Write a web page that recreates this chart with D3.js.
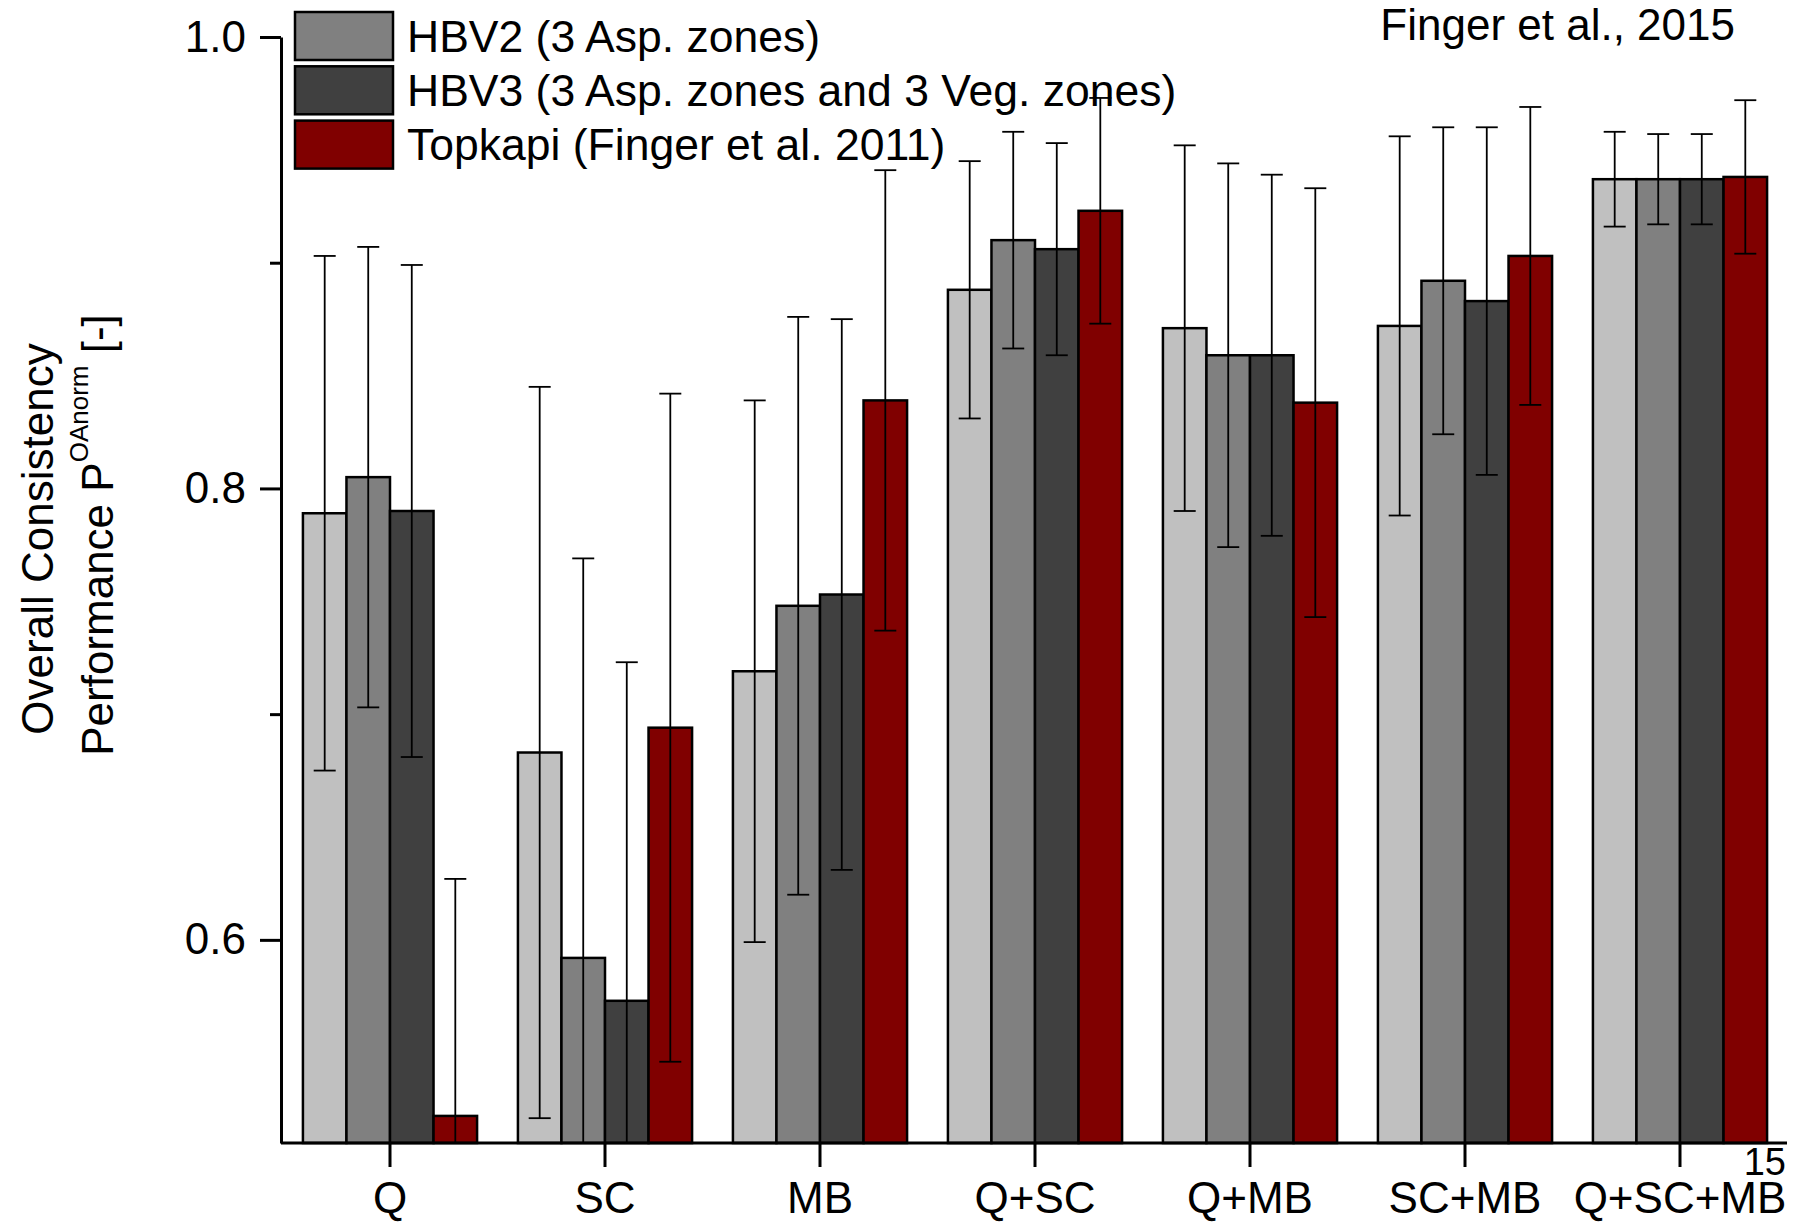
<!DOCTYPE html>
<html>
<head>
<meta charset="utf-8">
<script src="https://cdn.jsdelivr.net/npm/d3@7"></script>
<style>
  body { margin: 0; background: #fff; }
  text { font-family: "Liberation Sans", Arial, sans-serif; fill: #000; }
</style>
</head>
<body>
<div id="chart"></div>
<script>
// data
const categories = ["Q", "SC", "MB", "Q+SC", "Q+MB", "SC+MB", "Q+SC+MB"];
const seriesNames = ["HBV1", "HBV2", "HBV3", "Topkapi"];
const seriesColors = ["#c0c0c0", "#808080", "#404040", "#800000"];

// mean values per series (one entry per category)
const hbv1 = [0.789, 0.683, 0.719, 0.888, 0.871, 0.872, 0.937];
const hbv2 = [0.805, 0.592, 0.748, 0.910, 0.859, 0.892, 0.937];
const hbv3 = [0.790, 0.573, 0.753, 0.906, 0.859, 0.883, 0.937];
const topkapi = [0.522, 0.694, 0.839, 0.923, 0.838, 0.903, 0.938];

// error bar half widths
const hbv1Err = [0.114, 0.162, 0.120, 0.057, 0.081, 0.084, 0.021];
const hbv2Err = [0.102, 0.177, 0.128, 0.048, 0.085, 0.068, 0.020];
const hbv3Err = [0.109, 0.150, 0.122, 0.047, 0.080, 0.077, 0.020];
const topkapiErr = [0.105, 0.148, 0.102, 0.050, 0.095, 0.066, 0.034];

const legendLabels = ["HBV2 (3 Asp. zones)", "HBV3 (3 Asp. zones and 3 Veg. zones)", "Topkapi (Finger et al. 2011)"];
const legendColors = ["#808080", "#404040", "#800000"];

const yMajorTicks = [0.6, 0.8, 1.0];
const yMinorTicks = [0.7, 0.9];

const width = 1794;
const height = 1222;

const svg = d3.select("#chart")
    .append("svg")
    .attr("width", width)
    .attr("height", height)
    .style("display", "block");

svg.append("rect").attr("width", width).attr("height", height).attr("fill", "#fff");

const plotLeft = 281, plotRight = 1787;
const y = d3.scaleLinear().domain([0.51, 1.0]).range([1143, 37]);

const x = d3.scaleBand()
    .domain(categories)
    .range([282.5, 1787.5])
    .paddingInner(0.19)
    .paddingOuter(0.095);

const xSub = d3.scaleBand()
    .domain(seriesNames)
    .range([0, x.bandwidth()]);

const values = [hbv1, hbv2, hbv3, topkapi];
const errs = [hbv1Err, hbv2Err, hbv3Err, topkapiErr];

let rows = [];
seriesNames.forEach((s, si) => {
    categories.forEach((c, ci) => {
        rows.push({cat: c, series: s, color: seriesColors[si], v: values[si][ci], e: errs[si][ci]});
    });
});

// bars
svg.append("g")
    .selectAll("rect")
    .data(rows)
    .join("rect")
        .attr("x", d => x(d.cat) + xSub(d.series))
        .attr("y", d => y(d.v))
        .attr("width", xSub.bandwidth())
        .attr("height", d => y.range()[0] - y(d.v))
        .attr("fill", d => d.color)
        .attr("stroke", "#000")
        .attr("stroke-width", 2.5);

// error bars (clipped at the axis minimum)
const yMin = y.domain()[0];
const capW = 11;
const eb = svg.append("g").attr("stroke", "#000").attr("stroke-width", 1.8);
rows.forEach(d => {
    const cx = x(d.cat) + xSub(d.series) + xSub.bandwidth() / 2;
    const hi = d.v + d.e;
    const lo = Math.max(d.v - d.e, yMin);
    eb.append("line").attr("x1", cx).attr("x2", cx).attr("y1", y(hi)).attr("y2", y(lo));
    eb.append("line").attr("x1", cx - capW).attr("x2", cx + capW).attr("y1", y(hi)).attr("y2", y(hi));
    if (d.v - d.e > yMin) {
        eb.append("line").attr("x1", cx - capW).attr("x2", cx + capW).attr("y1", y(lo)).attr("y2", y(lo));
    }
});

// y axis
const yAxis = svg.append("g")
    .attr("transform", `translate(${plotLeft},0)`)
    .call(d3.axisLeft(y).tickValues(yMajorTicks).tickSize(21).tickPadding(14).tickFormat(d3.format(".1f")).tickSizeOuter(0));
yAxis.select(".domain").attr("stroke-width", 3);
yAxis.selectAll(".tick line").attr("stroke-width", 3);
yAxis.selectAll(".tick text").attr("font-size", 44).attr("font-family", "Liberation Sans, Arial, sans-serif");

const yMinor = svg.append("g")
    .attr("transform", `translate(${plotLeft},0)`)
    .call(d3.axisLeft(y).tickValues(yMinorTicks).tickSize(11).tickFormat(""));
yMinor.select(".domain").remove();
yMinor.selectAll(".tick line").attr("stroke-width", 3);

// x axis
const xAxis = svg.append("g")
    .attr("transform", `translate(0,${y.range()[0]})`)
    .call(d3.axisBottom(x).tickSize(24).tickPadding(15).tickSizeOuter(0));
xAxis.select(".domain").attr("d", `M${plotLeft},0H${plotRight}`).attr("stroke-width", 3);
xAxis.selectAll(".tick line").attr("stroke-width", 3);
xAxis.selectAll(".tick text").attr("font-size", 44).attr("font-family", "Liberation Sans, Arial, sans-serif");

// y axis title
svg.append("text")
    .attr("transform", "translate(53,539) rotate(-90)")
    .attr("text-anchor", "middle")
    .attr("font-size", 44)
    .text("Overall Consistency");

const yTitle2 = svg.append("text")
    .attr("transform", "translate(113,535) rotate(-90)")
    .attr("text-anchor", "middle")
    .attr("font-size", 44);
yTitle2.append("tspan").text("Performance P");
yTitle2.append("tspan").attr("font-size", 26).attr("dy", -25).text("OAnorm");
yTitle2.append("tspan").attr("dy", 25).text(" [-]");

// legend
const legend = svg.append("g");
legendLabels.forEach((lab, i) => {
    const ly = 12 + i * 54.3;
    legend.append("rect")
        .attr("x", 295).attr("y", ly)
        .attr("width", 98).attr("height", 48)
        .attr("fill", legendColors[i])
        .attr("stroke", "#000")
        .attr("stroke-width", 2.5);
    legend.append("text")
        .attr("x", 407).attr("y", ly + 24)
        .attr("dy", "0.35em")
        .attr("font-size", 44.5)
        .text(lab);
});

// citation
svg.append("text")
    .attr("x", 1735).attr("y", 40)
    .attr("text-anchor", "end")
    .attr("font-size", 44)
    .text("Finger et al., 2015");

// page number
svg.append("text")
    .attr("x", 1786).attr("y", 1175)
    .attr("text-anchor", "end")
    .attr("font-size", 38)
    .text("15");
</script>
</body>
</html>
